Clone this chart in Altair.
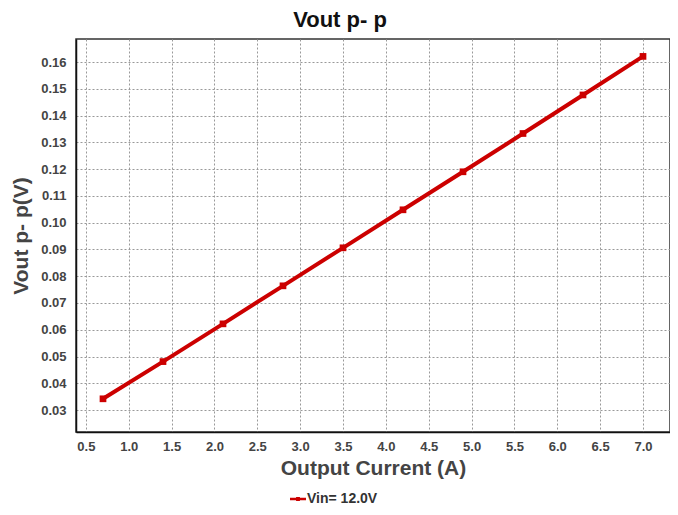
import altair as alt
import pandas as pd

current = [0.7, 1.4, 2.1, 2.8, 3.5, 4.2, 4.9, 5.6, 6.3, 7.0]
vout = [0.0342, 0.0481, 0.0622, 0.0764, 0.0906, 0.1048, 0.1190, 0.1333, 0.1477, 0.1621]
series = ["Vin= 12.0V"] * len(current)

df = pd.DataFrame({"current": current, "vout": vout, "series": series})

FONT = "Liberation Sans"
RED = "#cc0000"

legend_symbol = ("M-1,-0.15 L1,-0.15 L1,0.15 L-1,0.15 Z "
                 "M-0.24,-0.24 L0.24,-0.24 L0.24,0.24 L-0.24,0.24 Z")

x = alt.X("current:Q",
          scale=alt.Scale(domain=[0.385, 7.315], nice=False, zero=False),
          axis=alt.Axis(values=[0.5, 1.0, 1.5, 2.0, 2.5, 3.0, 3.5, 4.0, 4.5, 5.0, 5.5, 6.0, 6.5, 7.0],
                        format=".1f", title="Output Current (A)"))
y = alt.Y("vout:Q",
          scale=alt.Scale(domain=[0.0218, 0.1686], nice=False, zero=False),
          axis=alt.Axis(values=[0.03, 0.04, 0.05, 0.06, 0.07, 0.08, 0.09, 0.10, 0.11, 0.12, 0.13, 0.14, 0.15, 0.16],
                        format=".2f", title="Vout p- p(V)"))
color = alt.Color("series:N",
                  scale=alt.Scale(range=[RED]),
                  legend=alt.Legend(title=None, orient="none", legendX=214, legendY=452,
                                    symbolType=legend_symbol, symbolSize=256,
                                    symbolFillColor=RED, symbolStrokeWidth=0,
                                    labelFont=FONT, labelFontSize=14, labelFontWeight="bold",
                                    labelColor="#333", labelOffset=1))

line = alt.Chart(df).mark_line(strokeWidth=4).encode(x=x, y=y, color=color)
pts = alt.Chart(df).mark_square(size=45, opacity=1, filled=True).encode(
    x=x, y=y, color=alt.Color("series:N", scale=alt.Scale(range=[RED]), legend=None))

chart = (line + pts).properties(
    width=594, height=393,
    autosize=alt.AutoSizeParams(type="none"),
    padding={"left": 68, "top": 31, "right": 0, "bottom": 75},
    title=alt.TitleParams("Vout p- p", font=FONT, fontSize=22, fontWeight="bold",
                          color="#111", anchor="middle", offset=7, dx=-33),
).configure_view(
    stroke="#333", strokeWidth=1.5
).configure_axis(
    grid=True, gridColor="#999", gridDash=[2, 2], gridWidth=1,
    domain=True, domainColor="#111", domainWidth=1.5,
    ticks=False,
    labelFont=FONT, labelFontSize=13, labelFontWeight="bold", labelColor="#444",
    titleFont=FONT, titleFontSize=21, titleFontWeight="bold", titleColor="#444",
).configure_axisX(
    labelPadding=8, titlePadding=4
).configure_axisY(
    labelPadding=10, titlePadding=9
)

chart.save("out.html", embed_options={"renderer": "svg", "actions": False})
